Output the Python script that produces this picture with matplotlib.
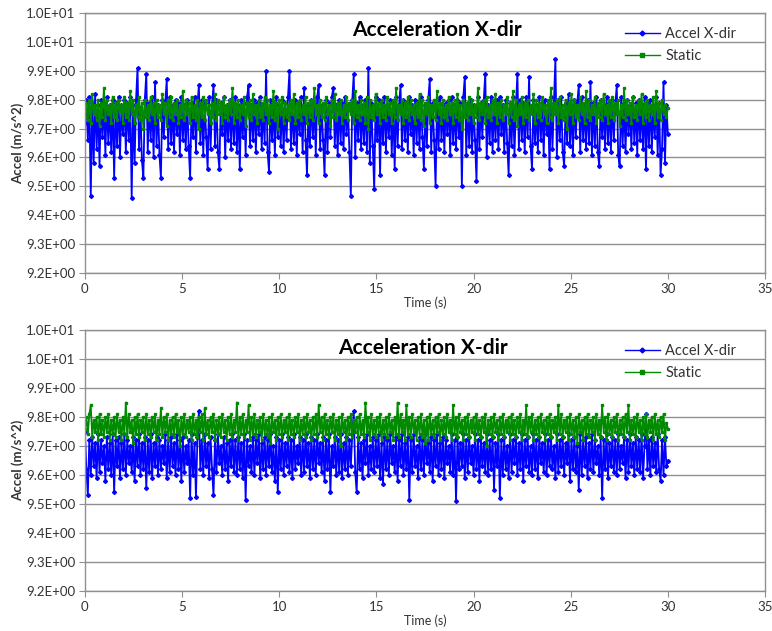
import numpy as np
import matplotlib
matplotlib.use("Agg")
import matplotlib.pyplot as plt
from matplotlib.ticker import FuncFormatter

# sampled accelerations (m/s^2), 400 samples spread over 0-30 s
accel_top = [
    9.72, 9.80, 9.66, 9.81, 9.465, 9.79, 9.58, 9.82, 9.63, 9.78, 9.57, 9.80, 9.67, 9.79, 9.61, 9.81, 9.65, 9.78, 9.62, 9.80,
    9.53, 9.79, 9.64, 9.81, 9.60, 9.78, 9.68, 9.80, 9.62, 9.79, 9.66, 9.81, 9.46, 9.78, 9.58, 9.80, 9.91, 9.63, 9.77, 9.59,
    9.53, 9.80, 9.89, 9.62, 9.79, 9.66, 9.81, 9.60, 9.86, 9.64, 9.78, 9.61, 9.53, 9.80, 9.67, 9.79, 9.87, 9.63, 9.81, 9.65,
    9.78, 9.62, 9.80, 9.68, 9.79, 9.61, 9.81, 9.66, 9.78, 9.63, 9.80, 9.64, 9.53, 9.79, 9.67, 9.81, 9.62, 9.78, 9.85, 9.65,
    9.80, 9.61, 9.79, 9.67, 9.56, 9.81, 9.63, 9.78, 9.85, 9.64, 9.80, 9.62, 9.56, 9.79, 9.68, 9.81, 9.60, 9.78, 9.66, 9.80,
    9.63, 9.79, 9.65, 9.81, 9.62, 9.78, 9.56, 9.80, 9.67, 9.79, 9.61, 9.81, 9.85, 9.64, 9.78, 9.66, 9.80, 9.62, 9.79, 9.68,
    9.81, 9.63, 9.78, 9.65, 9.90, 9.62, 9.55, 9.80, 9.66, 9.79, 9.61, 9.81, 9.67, 9.78, 9.64, 9.80, 9.62, 9.79, 9.66, 9.81,
    9.90, 9.63, 9.78, 9.65, 9.80, 9.61, 9.79, 9.68, 9.81, 9.62, 9.84, 9.66, 9.54, 9.78, 9.64, 9.80, 9.67, 9.79, 9.61, 9.81,
    9.85, 9.63, 9.78, 9.66, 9.54, 9.80, 9.62, 9.79, 9.67, 9.81, 9.84, 9.64, 9.78, 9.61, 9.80, 9.65, 9.79, 9.63, 9.81, 9.68,
    9.78, 9.62, 9.465, 9.80, 9.89, 9.60, 9.79, 9.66, 9.81, 9.63, 9.78, 9.65, 9.80, 9.62, 9.91, 9.58, 9.79, 9.64, 9.49, 9.81,
    9.66, 9.80, 9.54, 9.79, 9.65, 9.81, 9.62, 9.78, 9.67, 9.80, 9.61, 9.79, 9.56, 9.81, 9.64, 9.78, 9.85, 9.63, 9.80, 9.66,
    9.79, 9.62, 9.81, 9.68, 9.78, 9.61, 9.80, 9.65, 9.79, 9.63, 9.81, 9.67, 9.56, 9.78, 9.64, 9.80, 9.87, 9.62, 9.79, 9.66,
    9.50, 9.80, 9.63, 9.81, 9.66, 9.78, 9.62, 9.79, 9.68, 9.80, 9.61, 9.81, 9.65, 9.78, 9.63, 9.80, 9.67, 9.79, 9.50, 9.81,
    9.88, 9.61, 9.79, 9.64, 9.80, 9.62, 9.78, 9.66, 9.52, 9.81, 9.63, 9.79, 9.67, 9.80, 9.89, 9.60, 9.78, 9.65, 9.81, 9.62,
    9.79, 9.66, 9.80, 9.63, 9.81, 9.68, 9.78, 9.62, 9.80, 9.65, 9.54, 9.79, 9.64, 9.81, 9.61, 9.78, 9.89, 9.63, 9.80, 9.66,
    9.79, 9.62, 9.81, 9.67, 9.88, 9.64, 9.56, 9.80, 9.65, 9.78, 9.62, 9.81, 9.66, 9.79, 9.61, 9.80, 9.68, 9.78, 9.56, 9.81,
    9.63, 9.79, 9.94, 9.60, 9.80, 9.66, 9.81, 9.62, 9.57, 9.79, 9.65, 9.82, 9.64, 9.78, 9.61, 9.80, 9.67, 9.79, 9.85, 9.62,
    9.81, 9.66, 9.78, 9.63, 9.80, 9.65, 9.86, 9.61, 9.79, 9.64, 9.81, 9.62, 9.57, 9.80, 9.67, 9.78, 9.63, 9.81, 9.65, 9.79,
    9.62, 9.80, 9.66, 9.78, 9.85, 9.61, 9.57, 9.81, 9.64, 9.79, 9.62, 9.80, 9.68, 9.78, 9.63, 9.81, 9.65, 9.79, 9.61, 9.80,
    9.66, 9.78, 9.63, 9.81, 9.56, 9.79, 9.64, 9.80, 9.62, 9.78, 9.67, 9.81, 9.61, 9.79, 9.54, 9.63, 9.86, 9.58, 9.78, 9.68,
]
static_top = [
    9.74, 9.79, 9.73, 9.80, 9.72, 9.82, 9.75, 9.78, 9.73, 9.80, 9.71, 9.79, 9.74, 9.84, 9.73, 9.80, 9.75, 9.78, 9.72, 9.81,
    9.74, 9.79, 9.73, 9.80, 9.76, 9.78, 9.72, 9.81, 9.74, 9.79, 9.73, 9.83, 9.75, 9.80, 9.72, 9.78, 9.74, 9.81, 9.73, 9.79,
    9.70, 9.80, 9.74, 9.78, 9.73, 9.81, 9.75, 9.79, 9.72, 9.80, 9.74, 9.78, 9.73, 9.82, 9.75, 9.79, 9.71, 9.80, 9.74, 9.81,
    9.73, 9.79, 9.75, 9.80, 9.72, 9.78, 9.74, 9.83, 9.73, 9.80, 9.75, 9.79, 9.72, 9.81, 9.74, 9.78, 9.73, 9.80, 9.70, 9.79,
    9.74, 9.81, 9.73, 9.80, 9.75, 9.78, 9.72, 9.79, 9.74, 9.82, 9.73, 9.80, 9.75, 9.79, 9.72, 9.81, 9.74, 9.78, 9.73, 9.80,
    9.75, 9.84, 9.72, 9.79, 9.74, 9.80, 9.73, 9.78, 9.75, 9.81, 9.71, 9.79, 9.74, 9.80, 9.73, 9.82, 9.75, 9.78, 9.72, 9.80,
    9.74, 9.79, 9.73, 9.81, 9.75, 9.80, 9.72, 9.78, 9.74, 9.83, 9.73, 9.79, 9.70, 9.80, 9.75, 9.81, 9.72, 9.79, 9.74, 9.78,
    9.73, 9.80, 9.75, 9.82, 9.72, 9.79, 9.74, 9.80, 9.73, 9.78, 9.75, 9.81, 9.72, 9.79, 9.74, 9.80, 9.73, 9.84, 9.75, 9.78,
    9.72, 9.80, 9.74, 9.79, 9.73, 9.81, 9.75, 9.78, 9.71, 9.80, 9.74, 9.82, 9.73, 9.79, 9.75, 9.80, 9.72, 9.78, 9.74, 9.81,
    9.73, 9.79, 9.75, 9.80, 9.72, 9.83, 9.74, 9.78, 9.73, 9.80, 9.75, 9.79, 9.72, 9.81, 9.70, 9.80, 9.74, 9.78, 9.73, 9.82,
    9.75, 9.79, 9.72, 9.80, 9.74, 9.78, 9.73, 9.81, 9.75, 9.79, 9.72, 9.80, 9.74, 9.84, 9.73, 9.78, 9.75, 9.80, 9.72, 9.79,
    9.74, 9.81, 9.73, 9.80, 9.75, 9.78, 9.72, 9.79, 9.74, 9.82, 9.73, 9.80, 9.71, 9.79, 9.75, 9.81, 9.72, 9.78, 9.74, 9.80,
    9.73, 9.83, 9.75, 9.79, 9.72, 9.80, 9.74, 9.78, 9.73, 9.81, 9.75, 9.79, 9.72, 9.80, 9.74, 9.82, 9.73, 9.78, 9.70, 9.80,
    9.74, 9.79, 9.73, 9.81, 9.75, 9.80, 9.72, 9.78, 9.74, 9.84, 9.73, 9.79, 9.75, 9.80, 9.72, 9.81, 9.74, 9.78, 9.73, 9.80,
    9.75, 9.82, 9.72, 9.79, 9.74, 9.80, 9.73, 9.78, 9.75, 9.81, 9.72, 9.79, 9.74, 9.83, 9.73, 9.80, 9.71, 9.78, 9.75, 9.81,
    9.72, 9.79, 9.74, 9.80, 9.73, 9.78, 9.75, 9.82, 9.72, 9.80, 9.74, 9.79, 9.73, 9.81, 9.75, 9.78, 9.72, 9.80, 9.74, 9.84,
    9.73, 9.79, 9.75, 9.80, 9.72, 9.81, 9.74, 9.78, 9.73, 9.80, 9.70, 9.79, 9.75, 9.82, 9.72, 9.80, 9.74, 9.78, 9.73, 9.81,
    9.75, 9.79, 9.72, 9.83, 9.74, 9.80, 9.73, 9.78, 9.75, 9.81, 9.72, 9.79, 9.74, 9.80, 9.73, 9.82, 9.75, 9.78, 9.72, 9.80,
    9.74, 9.81, 9.73, 9.79, 9.75, 9.80, 9.71, 9.78, 9.74, 9.84, 9.73, 9.80, 9.75, 9.79, 9.72, 9.81, 9.74, 9.78, 9.73, 9.80,
    9.75, 9.82, 9.72, 9.79, 9.74, 9.80, 9.73, 9.78, 9.75, 9.81, 9.72, 9.83, 9.74, 9.79, 9.73, 9.80, 9.75, 9.78, 9.74, 9.77,
]
accel_bot = [
    9.75, 9.62, 9.53, 9.72, 9.60, 9.73, 9.63, 9.71, 9.59, 9.74, 9.61, 9.72, 9.64, 9.70, 9.58, 9.73, 9.62, 9.71, 9.60, 9.74,
    9.54, 9.72, 9.63, 9.73, 9.59, 9.71, 9.62, 9.74, 9.60, 9.72, 9.64, 9.70, 9.61, 9.73, 9.58, 9.72, 9.63, 9.74, 9.60, 9.71,
    9.62, 9.73, 9.555, 9.72, 9.61, 9.74, 9.59, 9.71, 9.63, 9.73, 9.60, 9.72, 9.62, 9.70, 9.64, 9.74, 9.59, 9.72, 9.61, 9.73,
    9.63, 9.71, 9.60, 9.74, 9.62, 9.72, 9.58, 9.73, 9.61, 9.70, 9.64, 9.72, 9.52, 9.74, 9.60, 9.71, 9.525, 9.73, 9.82, 9.62,
    9.72, 9.60, 9.74, 9.63, 9.71, 9.59, 9.73, 9.62, 9.53, 9.72, 9.61, 9.74, 9.64, 9.70, 9.60, 9.73, 9.62, 9.71, 9.58, 9.72,
    9.63, 9.74, 9.61, 9.72, 9.60, 9.73, 9.62, 9.71, 9.59, 9.74, 9.515, 9.72, 9.63, 9.70, 9.61, 9.73, 9.60, 9.72, 9.64, 9.74,
    9.59, 9.71, 9.62, 9.73, 9.60, 9.72, 9.63, 9.74, 9.61, 9.70, 9.58, 9.73, 9.54, 9.72, 9.62, 9.74, 9.60, 9.71, 9.63, 9.73,
    9.61, 9.72, 9.59, 9.74, 9.62, 9.70, 9.64, 9.73, 9.60, 9.72, 9.61, 9.74, 9.63, 9.71, 9.59, 9.73, 9.62, 9.72, 9.60, 9.74,
    9.64, 9.71, 9.61, 9.73, 9.58, 9.72, 9.62, 9.74, 9.54, 9.70, 9.63, 9.73, 9.60, 9.72, 9.61, 9.74, 9.59, 9.71, 9.62, 9.73,
    9.60, 9.72, 9.63, 9.74, 9.82, 9.61, 9.54, 9.73, 9.62, 9.71, 9.59, 9.72, 9.64, 9.74, 9.60, 9.70, 9.62, 9.73, 9.61, 9.72,
    9.63, 9.74, 9.59, 9.71, 9.57, 9.73, 9.62, 9.72, 9.60, 9.74, 9.64, 9.70, 9.61, 9.73, 9.58, 9.72, 9.63, 9.74, 9.60, 9.71,
    9.62, 9.73, 9.515, 9.72, 9.61, 9.74, 9.63, 9.70, 9.59, 9.73, 9.62, 9.72, 9.60, 9.74, 9.64, 9.71, 9.61, 9.73, 9.58, 9.72,
    9.63, 9.74, 9.60, 9.71, 9.62, 9.73, 9.59, 9.72, 9.64, 9.70, 9.61, 9.74, 9.60, 9.72, 9.51, 9.73, 9.62, 9.71, 9.63, 9.74,
    9.59, 9.72, 9.61, 9.73, 9.64, 9.70, 9.60, 9.74, 9.62, 9.72, 9.58, 9.73, 9.63, 9.71, 9.61, 9.74, 9.60, 9.72, 9.62, 9.73,
    9.55, 9.71, 9.63, 9.74, 9.52, 9.72, 9.60, 9.73, 9.62, 9.70, 9.59, 9.74, 9.61, 9.72, 9.64, 9.73, 9.60, 9.71, 9.62, 9.74,
    9.58, 9.72, 9.63, 9.73, 9.61, 9.70, 9.60, 9.74, 9.62, 9.72, 9.59, 9.73, 9.64, 9.71, 9.61, 9.74, 9.60, 9.72, 9.63, 9.73,
    9.62, 9.70, 9.59, 9.74, 9.61, 9.72, 9.63, 9.73, 9.60, 9.71, 9.64, 9.74, 9.58, 9.72, 9.62, 9.73, 9.61, 9.70, 9.55, 9.74,
    9.60, 9.72, 9.63, 9.73, 9.59, 9.71, 9.62, 9.74, 9.61, 9.72, 9.64, 9.70, 9.60, 9.73, 9.52, 9.72, 9.62, 9.74, 9.59, 9.71,
    9.63, 9.73, 9.61, 9.72, 9.60, 9.74, 9.62, 9.70, 9.64, 9.73, 9.59, 9.72, 9.61, 9.74, 9.63, 9.71, 9.60, 9.73, 9.62, 9.72,
    9.61, 9.74, 9.59, 9.70, 9.81, 9.62, 9.72, 9.60, 9.73, 9.63, 9.71, 9.61, 9.74, 9.62, 9.58, 9.72, 9.60, 9.73, 9.63, 9.65,
]
static_bot = [
    9.76, 9.80, 9.74, 9.81, 9.84, 9.73, 9.79, 9.75, 9.80, 9.72, 9.81, 9.74, 9.79, 9.73, 9.80, 9.75, 9.81, 9.72, 9.79, 9.74,
    9.80, 9.73, 9.81, 9.75, 9.79, 9.72, 9.80, 9.74, 9.85, 9.73, 9.81, 9.75, 9.79, 9.71, 9.80, 9.74, 9.81, 9.73, 9.79, 9.75,
    9.80, 9.72, 9.81, 9.74, 9.79, 9.73, 9.80, 9.75, 9.81, 9.72, 9.79, 9.74, 9.83, 9.73, 9.80, 9.75, 9.81, 9.72, 9.79, 9.74,
    9.80, 9.73, 9.81, 9.75, 9.79, 9.70, 9.80, 9.74, 9.81, 9.73, 9.79, 9.75, 9.80, 9.72, 9.81, 9.74, 9.79, 9.73, 9.80, 9.75,
    9.81, 9.72, 9.83, 9.74, 9.79, 9.73, 9.80, 9.75, 9.81, 9.72, 9.79, 9.74, 9.80, 9.73, 9.81, 9.75, 9.79, 9.72, 9.80, 9.74,
    9.81, 9.73, 9.79, 9.75, 9.85, 9.72, 9.80, 9.74, 9.81, 9.73, 9.79, 9.75, 9.84, 9.72, 9.80, 9.74, 9.81, 9.73, 9.79, 9.75,
    9.80, 9.72, 9.81, 9.74, 9.79, 9.73, 9.80, 9.71, 9.81, 9.75, 9.79, 9.72, 9.80, 9.74, 9.81, 9.73, 9.79, 9.75, 9.80, 9.72,
    9.81, 9.74, 9.79, 9.73, 9.80, 9.75, 9.81, 9.72, 9.79, 9.74, 9.80, 9.73, 9.81, 9.75, 9.79, 9.72, 9.80, 9.74, 9.81, 9.73,
    9.84, 9.75, 9.80, 9.72, 9.81, 9.74, 9.79, 9.73, 9.80, 9.75, 9.81, 9.72, 9.79, 9.74, 9.80, 9.70, 9.81, 9.75, 9.79, 9.72,
    9.80, 9.74, 9.81, 9.73, 9.79, 9.75, 9.80, 9.72, 9.81, 9.74, 9.79, 9.73, 9.85, 9.75, 9.80, 9.72, 9.81, 9.74, 9.79, 9.73,
    9.80, 9.75, 9.81, 9.72, 9.79, 9.74, 9.80, 9.73, 9.81, 9.75, 9.79, 9.72, 9.80, 9.74, 9.85, 9.73, 9.81, 9.75, 9.79, 9.72,
    9.84, 9.74, 9.80, 9.73, 9.81, 9.75, 9.79, 9.72, 9.80, 9.74, 9.81, 9.73, 9.79, 9.71, 9.80, 9.72, 9.81, 9.74, 9.79, 9.73,
    9.80, 9.75, 9.81, 9.72, 9.79, 9.74, 9.80, 9.73, 9.81, 9.75, 9.79, 9.72, 9.84, 9.74, 9.80, 9.73, 9.81, 9.75, 9.79, 9.72,
    9.80, 9.74, 9.81, 9.73, 9.79, 9.75, 9.80, 9.72, 9.81, 9.74, 9.79, 9.73, 9.80, 9.75, 9.81, 9.70, 9.79, 9.74, 9.80, 9.73,
    9.81, 9.75, 9.79, 9.72, 9.80, 9.74, 9.81, 9.73, 9.79, 9.75, 9.80, 9.72, 9.81, 9.74, 9.79, 9.73, 9.80, 9.75, 9.81, 9.72,
    9.79, 9.74, 9.84, 9.73, 9.80, 9.75, 9.81, 9.72, 9.79, 9.74, 9.80, 9.73, 9.81, 9.75, 9.79, 9.72, 9.80, 9.74, 9.81, 9.73,
    9.79, 9.75, 9.80, 9.72, 9.84, 9.74, 9.81, 9.73, 9.79, 9.75, 9.80, 9.72, 9.81, 9.74, 9.79, 9.73, 9.80, 9.71, 9.81, 9.75,
    9.79, 9.72, 9.80, 9.74, 9.81, 9.73, 9.79, 9.75, 9.80, 9.72, 9.81, 9.74, 9.79, 9.73, 9.84, 9.75, 9.80, 9.72, 9.81, 9.74,
    9.79, 9.73, 9.80, 9.75, 9.81, 9.72, 9.79, 9.74, 9.80, 9.73, 9.81, 9.75, 9.84, 9.72, 9.79, 9.74, 9.80, 9.73, 9.81, 9.75,
    9.79, 9.72, 9.80, 9.74, 9.81, 9.73, 9.79, 9.75, 9.80, 9.72, 9.81, 9.74, 9.79, 9.73, 9.80, 9.75, 9.81, 9.72, 9.78, 9.76,
]

time_s = np.linspace(0, 30, len(accel_top))

plt.rcParams["font.family"] = ["Lato", "DejaVu Sans"]
plt.rcParams["path.simplify"] = False

BLUE = "#0000ff"
GREEN = "#008a00"
GRID = "#8f8f8f"
TEXT = "#333333"


def style_axes(ax):
    ax.set_xlim(0, 35)
    ax.set_ylim(9.2, 10.1)
    ax.set_xticks(np.arange(0, 36, 5))
    ax.set_yticks(np.arange(9.2, 10.11, 0.1))
    ax.yaxis.set_major_formatter(FuncFormatter(lambda v, p: f"{v:.1E}"))
    ax.grid(axis="y", color=GRID, linewidth=1.0)
    ax.set_axisbelow(True)
    for side in ["left", "bottom", "right", "top"]:
        ax.spines[side].set_color(GRID)
        ax.spines[side].set_linewidth(1.0)
    ax.tick_params(axis="both", direction="out", length=4, color=GRID,
                   labelsize=9.5, labelcolor=TEXT)
    ax.tick_params(axis="y", pad=3)
    ax.set_xlabel("Time (s)", fontsize=9, color=TEXT, labelpad=1)
    ax.set_ylabel("Accel (m/s^2)", fontsize=9.5, fontweight="bold", color=TEXT, labelpad=1)


def draw_panel(ax, accel, static, title_x, title_y):
    ax.plot(time_s, accel, color=BLUE, linewidth=1.3, marker="D", markersize=2.0,
            label="Accel X-dir")
    ax.plot(time_s, static, color=GREEN, linewidth=1.3, marker="s", markersize=2.0,
            label="Static")
    style_axes(ax)
    ax.text(title_x, title_y, "Acceleration X-dir", transform=ax.transAxes,
            ha="center", va="center", fontsize=15, fontweight="bold", color="black")
    leg = ax.legend(loc="upper left", bbox_to_anchor=(0.785, 0.97), frameon=False,
                    fontsize=10.5, handlelength=2.4, handletextpad=0.4,
                    labelspacing=0.6, borderaxespad=0)
    for line in leg.get_lines():
        line.set_linewidth(1.0)
        line.set_markersize(2.5)
    for txt in leg.get_texts():
        txt.set_color(TEXT)


fig = plt.figure(figsize=(7.72, 6.31), dpi=100)
ax1 = fig.add_axes([0.110, 0.5674, 0.881, 0.412])
ax2 = fig.add_axes([0.110, 0.0634, 0.881, 0.4136])

draw_panel(ax1, accel_top, static_top, 0.518, 0.935)
draw_panel(ax2, accel_bot, static_bot, 0.497, 0.931)

fig.savefig("out.png", dpi=100)
